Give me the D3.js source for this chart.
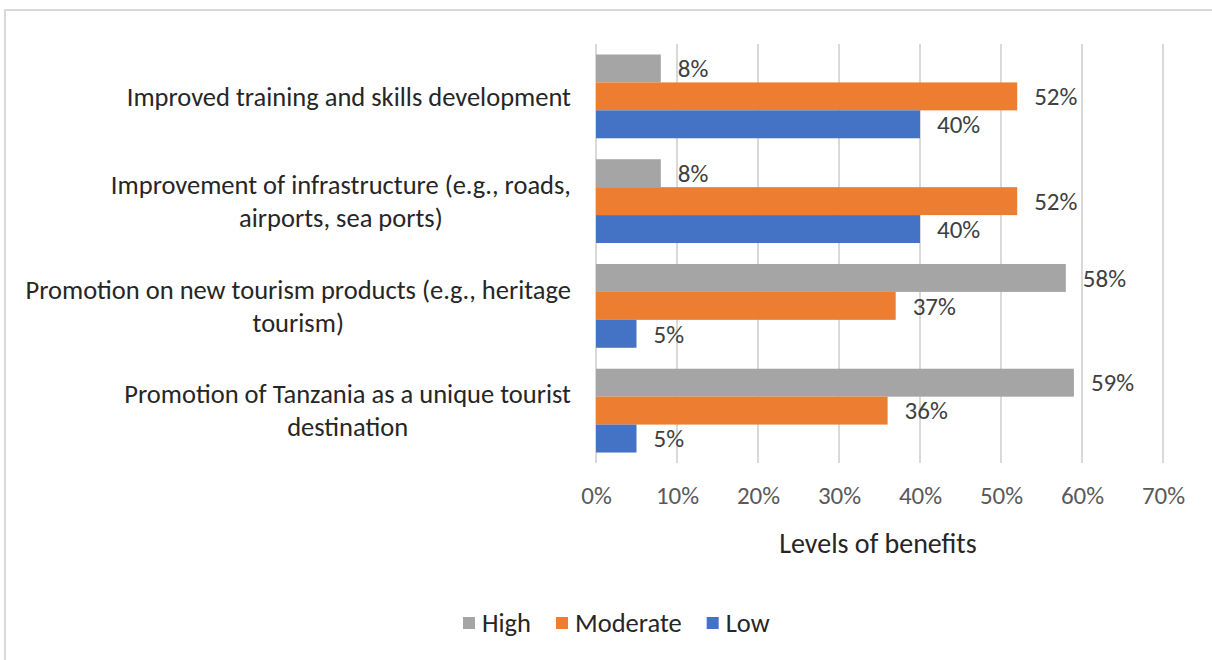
<!DOCTYPE html>
<html>
<head>
<meta charset="utf-8">
<script src="https://cdn.jsdelivr.net/npm/d3@7"></script>
<style>
  html, body { margin: 0; padding: 0; background: #fff; }
  svg { display: block; font-family: Calibri, Carlito, Lato, sans-serif; }
</style>
</head>
<body>
<svg id="chart" width="1212" height="660"></svg>
<script>
// Benefit categories, top to bottom, with their wrapped label lines
const categories = [
  "Improved training and skills development",
  "Improvement of infrastructure (e.g., roads, airports, sea ports)",
  "Promotion on new tourism products (e.g., heritage tourism)",
  "Promotion of Tanzania as a unique tourist destination"
];
const categoryLines = [
  ["Improved training and skills development"],
  ["Improvement of infrastructure (e.g., roads,", "airports, sea ports)"],
  ["Promotion on new tourism products (e.g., heritage", "tourism)"],
  ["Promotion of Tanzania as a unique tourist", "destination"]
];

// Levels of benefits (percent of respondents)
const seriesNames = ["High", "Moderate", "Low"];
const highValues = [8, 8, 58, 59];
const moderateValues = [52, 52, 37, 36];
const lowValues = [40, 40, 5, 5];
const seriesColors = ["#a5a5a5", "#ed7d31", "#4472c4"];

const xTicks = [0, 10, 20, 30, 40, 50, 60, 70];
const xTitle = "Levels of benefits";

const svg = d3.select("#chart");

// Outer frame of the chart area
svg.append("rect")
  .attr("x", 5).attr("y", 10)
  .attr("width", 1240).attr("height", 700)
  .attr("fill", "none")
  .attr("stroke", "#d9d9d9")
  .attr("stroke-width", 2);

const plot = { left: 596, right: 1163, top: 44, bottom: 463 };

const x = d3.scaleLinear().domain([0, 70]).range([plot.left, plot.right]);
const y = d3.scaleBand().domain(categories)
  .range([plot.top, plot.bottom])
  .paddingInner(0.2).paddingOuter(0.1);
const ySeries = d3.scaleBand().domain(seriesNames).range([0, y.bandwidth()]);

const rows = categories.map((c, i) => ({
  category: c,
  values: [highValues[i], moderateValues[i], lowValues[i]]
}));

// Vertical gridlines
svg.append("g")
  .selectAll("line")
  .data(xTicks)
  .join("line")
  .attr("x1", d => x(d)).attr("x2", d => x(d))
  .attr("y1", plot.top).attr("y2", plot.bottom)
  .attr("stroke", "#d9d9d9")
  .attr("stroke-width", 2);

// X axis tick labels
const xAxis = d3.axisBottom(x)
  .tickValues(xTicks)
  .tickFormat(d => d + "%")
  .tickSize(0)
  .tickPadding(0);
const xAxisG = svg.append("g")
  .attr("transform", `translate(0, ${plot.bottom + 23})`)
  .call(xAxis)
  .attr("font-family", null)
  .attr("font-size", null);
xAxisG.select(".domain").remove();
xAxisG.selectAll("text")
  .attr("fill", "#595959")
  .attr("font-size", 25);

// Axis title
svg.append("text")
  .attr("x", 878).attr("y", 553)
  .attr("text-anchor", "middle")
  .attr("font-size", 28)
  .attr("fill", "#262626")
  .text(xTitle);

// Bars and value labels
const groups = svg.append("g")
  .selectAll("g")
  .data(rows)
  .join("g")
  .attr("transform", d => `translate(0, ${y(d.category)})`);

groups.selectAll("rect")
  .data(d => d.values.map((v, j) => ({ series: seriesNames[j], value: v, color: seriesColors[j] })))
  .join("rect")
  .attr("x", x(0))
  .attr("y", d => ySeries(d.series))
  .attr("width", d => x(d.value) - x(0))
  .attr("height", ySeries.bandwidth())
  .attr("fill", d => d.color);

groups.selectAll("text")
  .data(d => d.values.map((v, j) => ({ series: seriesNames[j], value: v })))
  .join("text")
  .attr("x", d => x(d.value) + 17)
  .attr("y", d => ySeries(d.series) + ySeries.bandwidth() / 2)
  .attr("dy", "0.35em")
  .attr("font-size", 25)
  .attr("fill", "#404040")
  .text(d => d.value + "%");

// Category labels: lines centred within a block that ends near the axis
const labelRight = 571;
const lineHeight = 33;
categories.forEach((c, i) => {
  const lines = categoryLines[i];
  const g = svg.append("g");
  const cy = y(c) + y.bandwidth() / 2;
  const texts = lines.map((ln, k) => g.append("text")
    .attr("y", cy + (k - (lines.length - 1) / 2) * lineHeight)
    .attr("dy", "0.35em")
    .attr("font-size", 26.5)
    .attr("fill", "#262626")
    .attr("text-anchor", "middle")
    .text(ln));
  const maxW = d3.max(texts, t => t.node().getComputedTextLength());
  texts.forEach(t => t.attr("x", labelRight - maxW / 2));
});

// Legend
const legendItems = seriesNames.map((n, j) => ({ name: n, color: seriesColors[j] }));
const legend = svg.append("g").attr("transform", "translate(0, 623)");
let lx = 463;
legendItems.forEach(item => {
  legend.append("rect")
    .attr("x", lx).attr("y", -6)
    .attr("width", 12).attr("height", 12)
    .attr("fill", item.color);
  const t = legend.append("text")
    .attr("x", lx + 19).attr("y", 0)
    .attr("dy", "0.35em")
    .attr("font-size", 26.5)
    .attr("fill", "#262626")
    .text(item.name);
  lx += 19 + t.node().getComputedTextLength() + 25;
});
</script>
</body>
</html>
